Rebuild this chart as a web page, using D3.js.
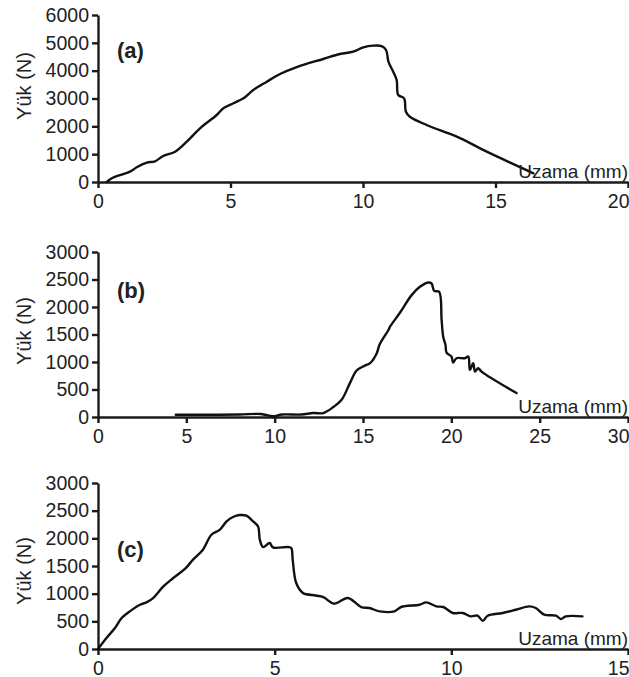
<!DOCTYPE html>
<html lang="tr">
<head>
<meta charset="UTF-8">
<title>Yük - Uzama</title>
<script src="https://d3js.org/d3.v7.min.js"></script>
<style>
  body { margin: 0; background: #fff; }
  svg { display: block; }
  text { font-family: "Liberation Sans", Arial, Helvetica, sans-serif; fill: #222; }
  .axis path, .axis line { stroke: #1a1a1a; stroke-width: 2.4; }
  .axis text { font-size: 19.5px; fill: #222; }
  .curve { fill: none; stroke: #111; stroke-width: 2.4; stroke-linejoin: round; stroke-linecap: round; }
</style>
</head>
<body>
<svg id="chart" width="629" height="677"></svg>
<script>
// --- veriler (mm, N) ---
var seriesA = [
  [0.33, 0], [0.52, 133], [0.83, 250], [1.21, 370], [1.46, 528], [1.84, 695], [2.15, 743],
  [2.46, 934], [2.91, 1090], [3.35, 1448], [3.85, 1929], [4.48, 2407], [4.73, 2648],
  [5.11, 2828], [5.49, 3007], [5.86, 3306], [6.37, 3604], [6.87, 3880], [7.5, 4130],
  [8.5, 4420], [9.13, 4599], [9.63, 4682], [10.01, 4838], [10.39, 4898], [10.7, 4880],
  [10.87, 4743], [10.96, 4323], [11.14, 3963], [11.27, 3665], [11.33, 3126], [11.55, 3007],
  [11.62, 2526], [11.77, 2346], [12.4, 2048], [13.54, 1628], [14.67, 1089], [16.43, 313]
];
var seriesB = [
  [4.4, 40], [6, 40], [8, 45], [9.2, 55], [9.6, 30], [10, 15], [10.4, 45], [11.5, 45],
  [12.19, 72], [12.75, 72], [13.32, 181], [13.79, 313], [14.26, 616], [14.64, 845],
  [15.11, 935], [15.4, 978], [15.78, 1160], [15.93, 1310], [16.44, 1582], [16.53, 1642],
  [17.09, 1895], [17.75, 2216], [18.22, 2367], [18.69, 2446], [18.88, 2428], [19.03, 2294],
  [19.31, 2276], [19.45, 1763], [19.54, 1460], [19.67, 1310], [19.73, 1170], [20.01, 1098],
  [20.1, 989], [20.29, 1069], [20.77, 1069], [20.96, 1098], [21.05, 857], [21.24, 978],
  [21.34, 826], [21.52, 888], [21.71, 826], [23.69, 435]
];
var seriesC = [
  [0, 0], [0.24, 199], [0.48, 380], [0.67, 560], [0.9, 680], [1.19, 800], [1.37, 842],
  [1.56, 921], [1.85, 1131], [2.13, 1283], [2.46, 1446], [2.69, 1614], [2.97, 1794],
  [3.21, 2065], [3.45, 2156], [3.64, 2306], [3.82, 2385], [4.01, 2421], [4.2, 2409],
  [4.39, 2306], [4.53, 2215], [4.58, 1975], [4.67, 1843], [4.86, 1915], [4.95, 1836],
  [5.38, 1843], [5.47, 1825], [5.51, 1614], [5.61, 1193], [5.8, 1012], [5.9, 990],
  [6.36, 940], [6.69, 819], [7.07, 922], [7.45, 759], [7.68, 741], [7.97, 680], [8.39, 680],
  [8.58, 759], [9.1, 800], [9.29, 842], [9.58, 770], [9.77, 759], [10.04, 651], [10.32, 651],
  [10.55, 590], [10.74, 602], [10.89, 511], [11.03, 602], [11.45, 651], [11.83, 710],
  [12.2, 770], [12.39, 741], [12.63, 620], [12.96, 602], [13.1, 542], [13.24, 590], [13.71, 590]
];

var panelLabels = ["(a)", "(b)", "(c)"];
var xDomains = [[0, 20], [0, 30], [0, 15]];
var yDomains = [[0, 6000], [0, 3000], [0, 3000]];
var xTicks = [[0, 5, 10, 15, 20], [0, 5, 10, 15, 20, 25, 30], [0, 5, 10, 15]];
var yTicks = [
  [0, 1000, 2000, 3000, 4000, 5000, 6000],
  [0, 500, 1000, 1500, 2000, 2500, 3000],
  [0, 500, 1000, 1500, 2000, 2500, 3000]
];
var allSeries = [seriesA, seriesB, seriesC];

// yerlesim
var left = 98, right = 628;
var panels = [
  { top: 15,  bottom: 182, labelY: 86,  tagY: 58 },
  { top: 252, bottom: 417, labelY: 331, tagY: 298 },
  { top: 483, bottom: 649, labelY: 571, tagY: 557 }
];

var svg = d3.select("#chart");

panels.forEach(function(p, i) {
  var x = d3.scaleLinear().domain(xDomains[i]).range([left, right]);
  var y = d3.scaleLinear().domain(yDomains[i]).range([p.bottom, p.top]);
  var g = svg.append("g");

  // eksenler
  var gx = g.append("g").attr("class", "axis")
    .attr("transform", "translate(0," + p.bottom + ")")
    .call(d3.axisBottom(x).tickValues(xTicks[i]).tickSize(6).tickSizeOuter(0).tickPadding(6).tickFormat(d3.format("d")));
  // son etiket kenarda kesilmesin
  gx.selectAll(".tick:last-of-type text").attr("text-anchor", "end").attr("x", 1);

  g.append("g").attr("class", "axis")
    .attr("transform", "translate(" + left + ",0)")
    .call(d3.axisLeft(y).tickValues(yTicks[i]).tickSize(6).tickSizeOuter(0).tickPadding(3).tickFormat(d3.format("d")));

  // egri
  var line = d3.line()
    .curve(d3.curveCatmullRom.alpha(0.5))
    .x(function(d) { return x(d[0]); })
    .y(function(d) { return y(d[1]); });
  g.append("path").attr("class", "curve").attr("d", line(allSeries[i]));

  // yazilar
  g.append("text")
    .attr("transform", "translate(31," + p.labelY + ") rotate(-90)")
    .attr("text-anchor", "middle")
    .style("font-size", "20px")
    .text("Yük (N)");

  g.append("text")
    .attr("x", right).attr("y", p.bottom - 4)
    .attr("text-anchor", "end")
    .style("font-size", "19px")
    .text("Uzama (mm)");

  g.append("text")
    .attr("x", 117).attr("y", p.tagY)
    .style("font-size", "22px").style("font-weight", "bold")
    .text(panelLabels[i]);
});
</script>
</body>
</html>
